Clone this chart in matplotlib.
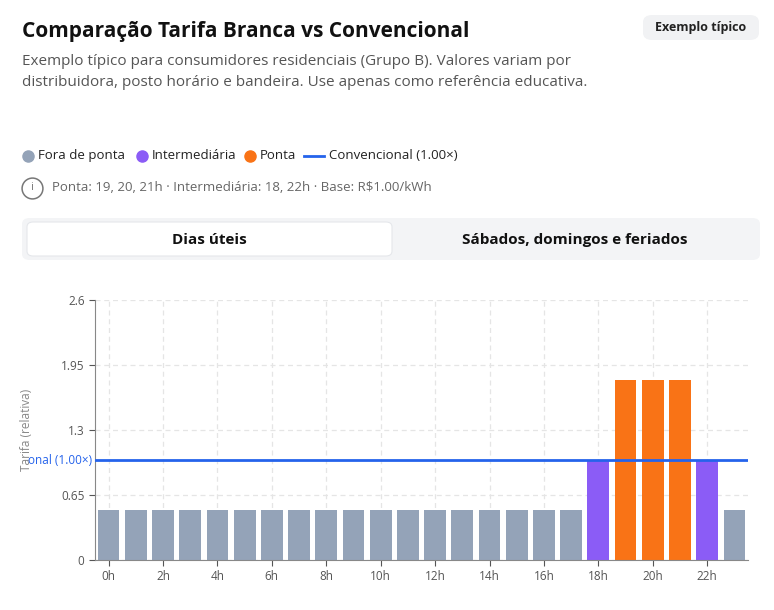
import matplotlib
matplotlib.use("Agg")
import matplotlib.pyplot as plt
from matplotlib.patches import FancyBboxPatch
from matplotlib.lines import Line2D

hours = list(range(24))
hour_labels = [f"{h}h" for h in hours]
fora_value = 0.5
inter_value = 1.0
ponta_value = 1.8
ponta_hours = [19, 20, 21]
inter_hours = [18, 22]
convencional = 1.0
yticks = [0, 0.65, 1.3, 1.95, 2.6]

C_FORA = "#94a3b8"; C_INTER = "#8b5cf6"; C_PONTA = "#f97316"; C_CONV = "#2563eb"

W, H = 774, 610
fig = plt.figure(figsize=(W/100, H/100), dpi=100)
fig.patch.set_facecolor("white")
F = "Open Sans"

def px(x, y):
    return x / W, 1 - y / H

fig.text(*px(22, 32), "Comparação Tarifa Branca vs Convencional", fontsize=15, fontweight="bold", family=F, va="center", color="#111")
fig.text(*px(22, 72), "Exemplo típico para consumidores residenciais (Grupo B). Valores variam por\ndistribuidora, posto horário e bandeira. Use apenas como referência educativa.",
         fontsize=11, family=F, va="center", color="#555", linespacing=1.5)
fig.patches.append(FancyBboxPatch(px(643, 40), 116/W, 25/H, boxstyle="round,pad=0,rounding_size=0.012",
                                  transform=fig.transFigure, fc="#f1f2f4", ec="none"))
fig.text(*px(701, 27), "Exemplo típico", fontsize=9, fontweight="bold", family=F, ha="center", va="center", color="#222")

items = [("Fora de ponta", C_FORA, "dot", 22), ("Intermediária", C_INTER, "dot", 136),
         ("Ponta", C_PONTA, "dot", 244), ("Convencional (1.00×)", C_CONV, "line", 304)]
for lab, c, kind, x in items:
    if kind == "dot":
        fig.lines.append(Line2D([(x+6)/W], [1-156/H], transform=fig.transFigure, marker="o", ms=8, color=c, ls="none"))
        fig.text(*px(x+16, 156), lab, fontsize=9.5, family=F, va="center", color="#222")
    else:
        fig.lines.append(Line2D([x/W, (x+20)/W], [1-156/H]*2, transform=fig.transFigure, color=c, lw=2))
        fig.text(*px(x+25, 156), lab, fontsize=9.5, family=F, va="center", color="#222")

fig.lines.append(Line2D([32/W], [1-188/H], transform=fig.transFigure, marker="o", ms=15, mfc="none", mec="#777", mew=1.1, ls="none"))
fig.text(*px(32, 188), "i", fontsize=8, family=F, ha="center", va="center", color="#777")
fig.text(*px(52, 188), "Ponta: 19, 20, 21h · Intermediária: 18, 22h · Base: R$1.00/kWh", fontsize=9.5, family=F, va="center", color="#666")

fig.patches.append(FancyBboxPatch(px(22, 260), 738/W, 42/H, boxstyle="round,pad=0,rounding_size=0.01",
                                  transform=fig.transFigure, fc="#f3f4f6", ec="none"))
fig.patches.append(FancyBboxPatch(px(27, 256), 365/W, 34/H, boxstyle="round,pad=0,rounding_size=0.008",
                                  transform=fig.transFigure, fc="white", ec="#e5e7eb", lw=0.8))
fig.text(*px(209, 240), "Dias úteis", fontsize=11, fontweight="bold", family=F, ha="center", va="center", color="#111")
fig.text(*px(575, 240), "Sábados, domingos e feriados", fontsize=11, fontweight="bold", family=F, ha="center", va="center", color="#111")

ax = fig.add_axes([95/W, 50/H, 653/W, 260/H])
vals, cols = [], []
for h in hours:
    if h in ponta_hours:
        vals.append(ponta_value); cols.append(C_PONTA)
    elif h in inter_hours:
        vals.append(inter_value); cols.append(C_INTER)
    else:
        vals.append(fora_value); cols.append(C_FORA)
ax.bar(hours, vals, width=0.8, color=cols, zorder=2)
ax.axhline(convencional, color=C_CONV, lw=2, zorder=3)
ax.set_xlim(-0.5, 23.5)
ax.set_ylim(0, 2.6)
ax.set_yticks(yticks)
ax.set_yticklabels(["0", "0.65", "1.3", "1.95", "2.6"])
ax.set_xticks(hours[::2])
ax.set_xticklabels(hour_labels[::2])
ax.tick_params(labelsize=8.5, colors="#555", length=4)
for t in ax.get_xticklabels() + ax.get_yticklabels():
    t.set_family(F)
ax.grid(True, ls=(0, (4, 3)), color="#e5e5e5", lw=0.9, zorder=0)
for s in ["top", "right"]:
    ax.spines[s].set_visible(False)
ax.spines["left"].set_color("#888"); ax.spines["bottom"].set_color("#888")
ax.set_ylabel("Tarifa (relativa)", fontsize=8.5, color="#888", family=F)
ax.yaxis.set_label_coords(-0.095, 0.5)
ax.text(-0.005, convencional, "onal (1.00×)", transform=ax.get_yaxis_transform(), ha="right", va="center",
        fontsize=8.5, color=C_CONV, family=F, clip_on=False)

fig.savefig("out.png", dpi=100)
